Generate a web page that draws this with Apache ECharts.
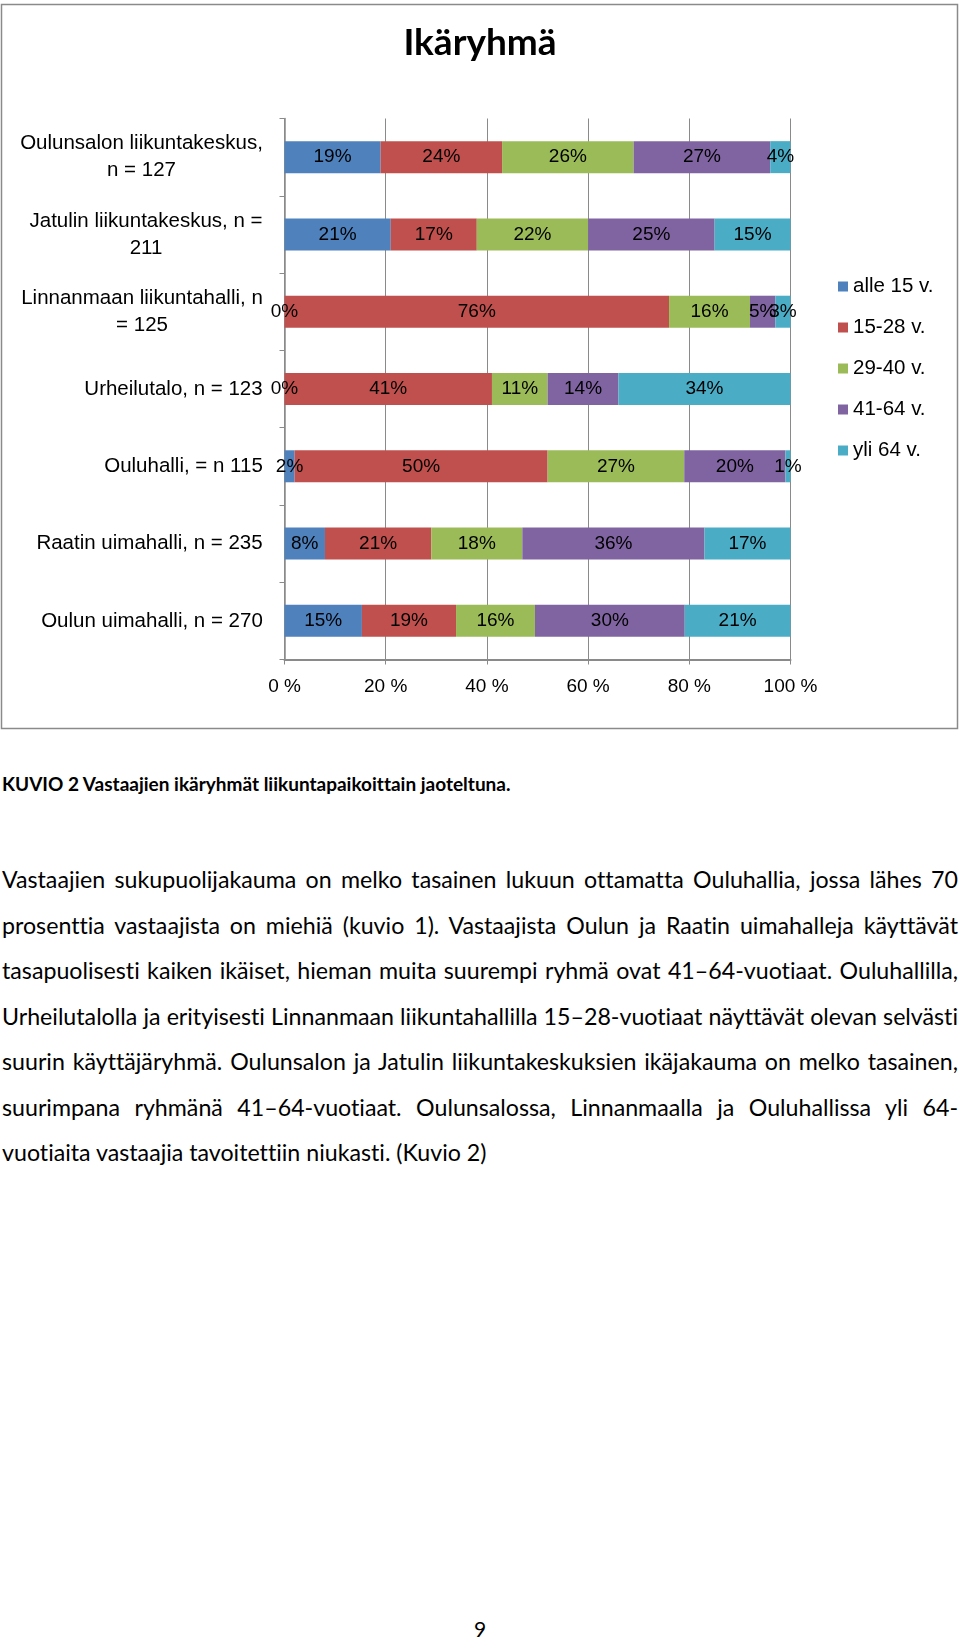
<!DOCTYPE html>
<html>
<head>
<meta charset="utf-8">
<script src="https://cdn.jsdelivr.net/npm/echarts@6/dist/echarts.min.js"></script>
<style>
  html, body { margin: 0; padding: 0; background: #fff; }
  body { width: 960px; height: 1639px; position: relative; overflow: hidden; }
  #chart { position: absolute; left: 0; top: 0; width: 960px; height: 735px; }
  .caption { position: absolute; left: 2px; top: 771px; font-family: Lato, "Open Sans", sans-serif; font-weight: bold; font-size: 19px; line-height: 26px; color: #000; white-space: nowrap; font-variant-ligatures: none; }
  .para { position: absolute; left: 2px; top: 857px; width: 956px; font-family: Lato, "Open Sans", sans-serif; font-size: 23.2px; line-height: 45.5px; color: #000; font-variant-ligatures: none; }
  .para div { text-align: justify; text-align-last: justify; white-space: nowrap; }
  .para div.last { text-align-last: left; }
  .pageno { position: absolute; left: 0; width: 960px; top: 1616px; text-align: center; font-family: Lato, "Open Sans", sans-serif; font-size: 21px; line-height: 26px; }
</style>
</head>
<body>
<div id="chart"></div>
<div class="caption">KUVIO 2 Vastaajien ikäryhmät liikuntapaikoittain jaoteltuna.</div>
<div class="para">
  <div>Vastaajien sukupuolijakauma on melko tasainen lukuun ottamatta Ouluhallia, jossa lähes 70</div>
  <div>prosenttia vastaajista on miehiä (kuvio 1). Vastaajista Oulun ja Raatin uimahalleja käyttävät</div>
  <div>tasapuolisesti kaiken ikäiset, hieman muita suurempi ryhmä ovat 41–64-vuotiaat. Ouluhallilla,</div>
  <div>Urheilutalolla ja erityisesti Linnanmaan liikuntahallilla 15–28-vuotiaat näyttävät olevan selvästi</div>
  <div>suurin käyttäjäryhmä. Oulunsalon ja Jatulin liikuntakeskuksien ikäjakauma on melko tasainen,</div>
  <div>suurimpana ryhmänä 41–64-vuotiaat. Oulunsalossa, Linnanmaalla ja Ouluhallissa yli 64-</div>
  <div class="last">vuotiaita vastaajia tavoitettiin niukasti. (Kuvio 2)</div>
</div>
<div class="pageno">9</div>
<script>
// ---- Data ----
const categories = [
  "Oulunsalon liikuntakeskus,\nn = 127",
  "Jatulin liikuntakeskus, n =\n211",
  "Linnanmaan liikuntahalli, n\n= 125",
  "Urheilutalo, n = 123",
  "Ouluhalli, = n 115",
  "Raatin uimahalli, n = 235",
  "Oulun uimahalli, n = 270"
];
const seriesNames = ["alle 15 v.", "15-28 v.", "29-40 v.", "41-64 v.", "yli 64 v."];
const alle15 = [19, 21, 0, 0, 2, 8, 15.3];
const v15to28 = [24, 17, 76, 41, 50, 21, 18.6];
const v29to40 = [26, 22, 16, 11, 27, 18, 15.6];
const v41to64 = [27, 25, 5, 14, 20, 36, 29.6];
const yli64 = [4, 15, 3, 34, 1, 17, 20.9];
const xTickValues = [0, 20, 40, 60, 80, 100];
const titleText = "Ikäryhmä";

// ---- Styles ----
const colors = ["#4F81BD", "#C0504D", "#9BBB59", "#8064A2", "#4BACC6"];
const FONT = '"Liberation Sans", Arial, sans-serif';
const CAT_FS = 20.5;
const LAB_FS = 19;

// measure widths for centered multi-line category labels
const cv = document.createElement('canvas');
const ctx = cv.getContext('2d');
ctx.font = CAT_FS + 'px ' + FONT;
const rich = {};
categories.forEach((c, i) => {
  const w = Math.max(...c.split('\n').map(l => ctx.measureText(l).width));
  rich['c' + i] = { width: Math.ceil(w) + 1, align: 'center', fontSize: CAT_FS, fontFamily: FONT, lineHeight: 27, color: '#000' };
});

const allSeries = [alle15, v15to28, v29to40, v41to64, yli64];

const chart = echarts.init(document.getElementById('chart'), null, { renderer: 'canvas' });
chart.setOption({
  animation: false,
  backgroundColor: '#fff',
  color: colors,
  title: {
    text: titleText,
    left: 'center',
    top: 25,
    padding: 0,
    textStyle: { fontFamily: 'Lato, "Open Sans", sans-serif', fontWeight: 'bold', fontSize: 37, color: '#000' }
  },
  graphic: [{
    type: 'rect', silent: true, z: -1,
    shape: { x: 1.5, y: 4.5, width: 956, height: 724 },
    style: { fill: 'none', stroke: '#8a8a8a', lineWidth: 1.5 }
  }],
  legend: {
    orient: 'vertical',
    left: 838,
    top: 276,
    itemWidth: 10,
    itemHeight: 10,
    itemGap: 20,
    icon: 'rect',
    padding: 0,
    data: seriesNames,
    textStyle: { fontFamily: FONT, fontSize: CAT_FS, color: '#000', lineHeight: 20 }
  },
  grid: { left: 284.5, top: 118.5, width: 506, height: 541, containLabel: false },
  xAxis: {
    type: 'value',
    min: 0, max: 100, interval: 20,
    axisLine: { show: true, lineStyle: { color: '#8a8a8a', width: 2 } },
    axisTick: { show: true, length: 5, lineStyle: { color: '#8a8a8a' } },
    splitLine: { show: true, lineStyle: { color: '#8a8a8a', width: 1 } },
    axisLabel: {
      margin: 18,
      fontFamily: FONT, fontSize: LAB_FS, color: '#000',
      formatter: v => xTickValues.includes(v) ? v + ' %' : ''
    }
  },
  yAxis: {
    type: 'category',
    inverse: true,
    data: categories,
    axisLine: { show: true, lineStyle: { color: '#8a8a8a', width: 1.5 } },
    axisTick: { show: true, length: 5, lineStyle: { color: '#8a8a8a' } },
    splitLine: { show: false },
    axisLabel: {
      margin: 21,
      align: 'right',
      formatter: (value, index) => '{c' + index + '|' + value + '}',
      rich: rich
    }
  },
  series: seriesNames.map((name, i) => ({
    name: name,
    type: 'bar',
    stack: 'total',
    barWidth: 32,
    data: allSeries[i],
    itemStyle: { color: colors[i] },
    label: {
      show: true,
      position: 'inside',
      fontFamily: FONT, fontSize: LAB_FS, color: '#000',
      formatter: p => Math.round(p.value) + '%'
    }
  }))
});
</script>
</body>
</html>
